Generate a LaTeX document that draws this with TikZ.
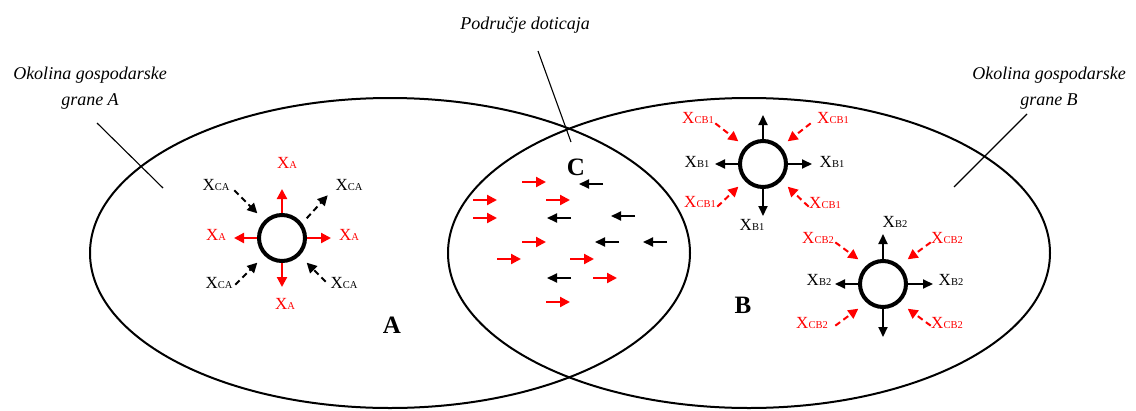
\documentclass[tikz,border=0pt]{standalone}
\usepackage{fontspec}
\setmainfont{Liberation Serif}
\usetikzlibrary{arrows.meta}
\newcommand\xsub[1]{{\fontsize{17}{18}\selectfont X}{\fontsize{10.5}{12}\selectfont #1}}
\begin{document}
\begin{tikzpicture}[x=1pt,y=-1pt,
  env/.style={line width=2pt},
  pointer/.style={line width=1.1pt},
  hub/.style={circle,draw,line width=4pt,minimum size=46pt,inner sep=0pt},
  rarr/.style={red,line width=2.2pt,-{Triangle[length=10pt,width=10pt]}},
  barr/.style={black,line width=2pt,-{Triangle[length=10pt,width=9pt]}},
  rdash/.style={red,line width=2pt,dash pattern=on 6pt off 4pt,-{Triangle[length=10pt,width=10pt]}},
  bdash/.style={black,line width=2pt,dash pattern=on 6pt off 4pt,-{Triangle[length=10pt,width=10pt]}},
  lbl/.style={inner sep=0pt},
  rlbl/.style={inner sep=0pt,text=red},
  big/.style={font=\fontsize{25}{28}\selectfont\bfseries,inner sep=0pt},
  note/.style={font=\fontsize{18}{26}\selectfont\itshape,align=center,inner sep=0pt}]

\useasboundingbox (0,0) rectangle (1136,410);

% environments
\draw[env] (390,253) ellipse [x radius=300pt, y radius=155pt];
\draw[env] (749,253) ellipse [x radius=301pt, y radius=155pt];

% notes and pointers
\node[note] (noteA) at (90,88) {Okolina gospodarske\\grane A};
\node[note] (noteB) at (1049,88) {Okolina gospodarske\\grane B};
\node[note,anchor=base] (noteC) at (525,29) {Područje doticaja};
\coordinate (pa1) at (97,123);  \coordinate (pa2) at (163,188);
\coordinate (pb1) at (1027,114); \coordinate (pb2) at (954,187);
\coordinate (pc1) at (538,51);  \coordinate (pc2) at (571,142);
\draw[pointer] (pa1) -- (pa2);
\draw[pointer] (pb1) -- (pb2);
\draw[pointer] (pc1) -- (pc2);

% big letters
\node[big] (lA) at (392,325) {A};
\node[big] (lB) at (743,305) {B};
\node[big] (lC) at (576,167) {C};

% ---------- hub A ----------
\node[hub] (ca) at (282,238) {};
\draw[rarr] (ca.north) -- ++(0,-24);
\draw[rarr] (ca.south) -- ++(0,24);
\draw[rarr] (ca.west) -- ++(-23,0);
\draw[rarr] (ca.east) -- ++(24,0);
\draw[bdash] ([shift={(-30,-30)}]ca.north west) -- ([shift={(-7,-7)}]ca.north west);
\draw[bdash] ([shift={(7,-2)}]ca.north east) -- ([shift={(28,-25)}]ca.north east);
\draw[bdash] ([shift={(-29,29)}]ca.south west) -- ([shift={(-7,7)}]ca.south west);
\draw[bdash] ([shift={(26,26)}]ca.south east) -- ([shift={(7,7)}]ca.south east);
\node[rlbl] (xa1) at ([shift={(5,-75)}]ca) {\xsub{A}};
\node[rlbl] (xa2) at ([shift={(-66,-3)}]ca) {\xsub{A}};
\node[rlbl] (xa3) at ([shift={(67,-3)}]ca) {\xsub{A}};
\node[rlbl] (xa4) at ([shift={(3,66)}]ca) {\xsub{A}};
\node[lbl] (xca1) at ([shift={(-66,-53)}]ca) {\xsub{CA}};
\node[lbl] (xca2) at ([shift={(67,-53)}]ca) {\xsub{CA}};
\node[lbl] (xca3) at ([shift={(-63,45)}]ca) {\xsub{CA}};
\node[lbl] (xca4) at ([shift={(62,45)}]ca) {\xsub{CA}};

% ---------- contact zone C ----------
\foreach \px/\py in {522/182, 473/200, 546/200, 473/218, 522/242, 497/259, 570/259, 593/278, 546/302}
  \draw[rarr] (\px,\py) -- ++(24,0);
\foreach \px/\py in {603/184, 571/218, 635/216, 619/242, 667/242, 571/278}
  \draw[barr] (\px,\py) -- ++(-24,0);

% ---------- hub B1 ----------
\node[hub] (cb1) at (763,164) {};
\draw[barr] (cb1.north) -- ++(0,-24);
\draw[barr] (cb1.south) -- ++(0,27);
\draw[barr] (cb1.west) -- ++(-23,0);
\draw[barr] (cb1.east) -- ++(24,0);
\draw[rdash] ([shift={(-30,-23)}]cb1.north west) -- ([shift={(-7,-5)}]cb1.north west);
\draw[rdash] ([shift={(30,-23)}]cb1.north east) -- ([shift={(7,-5)}]cb1.north east);
\draw[rdash] ([shift={(-28,25)}]cb1.south west) -- ([shift={(-7,5)}]cb1.south west);
\draw[rdash] ([shift={(28,25)}]cb1.south east) -- ([shift={(7,5)}]cb1.south east);
\node[lbl] (xb11) at ([shift={(-66,-2)}]cb1) {\xsub{B1}};
\node[lbl] (xb12) at ([shift={(69,-2)}]cb1) {\xsub{B1}};
\node[lbl] (xb13) at ([shift={(-11,61)}]cb1) {\xsub{B1}};
\node[rlbl] (xcb11) at ([shift={(-65,-46)}]cb1) {\xsub{CB1}};
\node[rlbl] (xcb12) at ([shift={(70,-46)}]cb1) {\xsub{CB1}};
\node[rlbl] (xcb13) at ([shift={(-63,38)}]cb1) {\xsub{CB1}};
\node[rlbl] (xcb14) at ([shift={(62,39)}]cb1) {\xsub{CB1}};

% ---------- hub B2 ----------
\node[hub] (cb2) at (883,284) {};
\draw[barr] (cb2.north) -- ++(0,-25);
\draw[barr] (cb2.south) -- ++(0,28);
\draw[barr] (cb2.west) -- ++(-23,0);
\draw[barr] (cb2.east) -- ++(25,0);
\draw[rdash] ([shift={(-30,-24)}]cb2.north west) -- ([shift={(-7,-7)}]cb2.north west);
\draw[rdash] ([shift={(30,-24)}]cb2.north east) -- ([shift={(7,-7)}]cb2.north east);
\draw[rdash] ([shift={(-30,24)}]cb2.south west) -- ([shift={(-7,7)}]cb2.south west);
\draw[rdash] ([shift={(30,24)}]cb2.south east) -- ([shift={(7,7)}]cb2.south east);
\node[lbl] (xb21) at ([shift={(12,-62)}]cb2) {\xsub{B2}};
\node[lbl] (xb22) at ([shift={(-64,-4)}]cb2) {\xsub{B2}};
\node[lbl] (xb23) at ([shift={(68,-4)}]cb2) {\xsub{B2}};
\node[rlbl] (xcb21) at ([shift={(-65,-46)}]cb2) {\xsub{CB2}};
\node[rlbl] (xcb22) at ([shift={(64,-46)}]cb2) {\xsub{CB2}};
\node[rlbl] (xcb23) at ([shift={(-71,39)}]cb2) {\xsub{CB2}};
\node[rlbl] (xcb24) at ([shift={(64,39)}]cb2) {\xsub{CB2}};
\end{tikzpicture}
\end{document}
